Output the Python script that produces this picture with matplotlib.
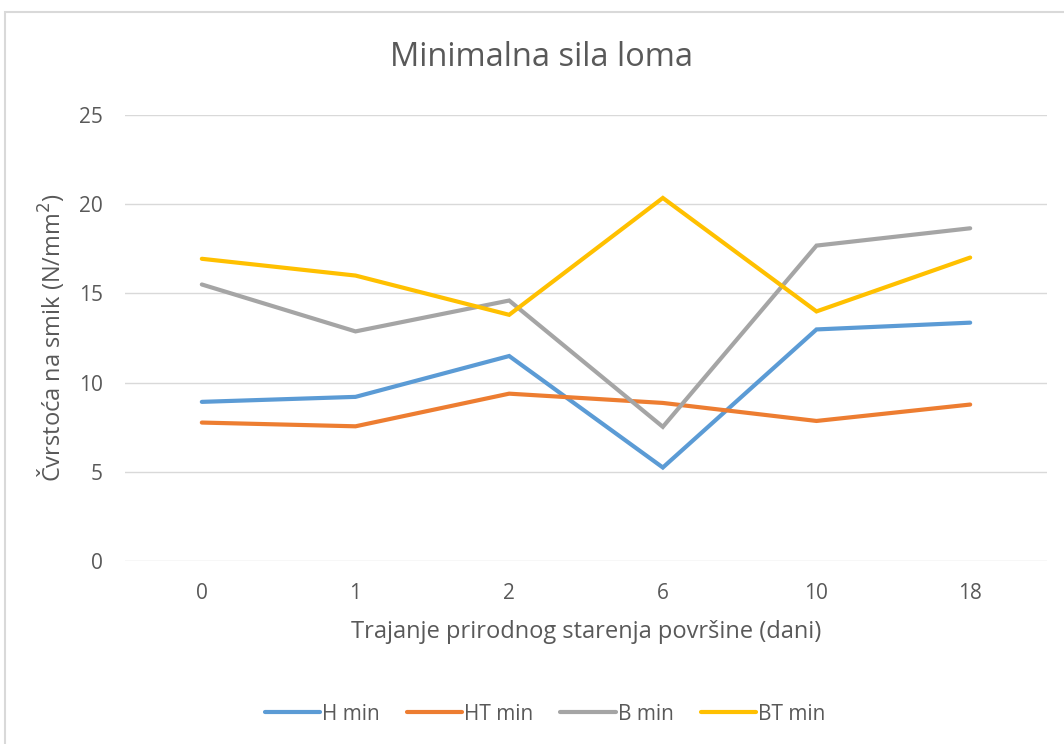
import matplotlib
matplotlib.use("Agg")
import matplotlib.pyplot as plt
from matplotlib.patches import Rectangle

plt.rcParams['font.family'] = ['Open Sans', 'DejaVu Sans']

# Data
categories = ['0', '1', '2', '6', '10', '18']
h_min = [8.92, 9.2, 11.49, 5.24, 12.98, 13.36]
ht_min = [7.76, 7.55, 9.38, 8.86, 7.85, 8.77]
b_min = [15.5, 12.87, 14.6, 7.52, 17.68, 18.65]
bt_min = [16.94, 16.0, 13.8, 20.35, 13.99, 17.01]

series = [
    ('H min', h_min, '#5B9BD5'),
    ('HT min', ht_min, '#ED7D31'),
    ('B min', b_min, '#A5A5A5'),
    ('BT min', bt_min, '#FFC000'),
]

text_color = '#595959'

fig = plt.figure(figsize=(10.64, 7.44), dpi=100)
# chart area border (cropped on right/bottom in reference)
fig.patches.append(Rectangle((5 / 1064, -0.05), 1.1, 1 - 12 / 744 + 0.05,
                             transform=fig.transFigure, fill=False,
                             edgecolor='#d9d9d9', lw=1.5, clip_on=False))

ax = fig.add_axes([125 / 1064, 1 - 561 / 744, (1047 - 125) / 1064, (561 - 115) / 744])

x = list(range(len(categories)))
for name, vals, col in series:
    ax.plot(x, vals, color=col, lw=3, label=name, solid_capstyle='round',
            solid_joinstyle='miter')

ax.set_xlim(-0.5, len(categories) - 0.5)
ax.set_ylim(0, 25)
ax.set_yticks([0, 5, 10, 15, 20, 25])
ax.set_xticks(x)
ax.set_xticklabels(categories)
ax.grid(True, axis='y', color='#d9d9d9', lw=1)
ax.set_axisbelow(True)
for s in ax.spines.values():
    s.set_visible(False)
ax.tick_params(axis='both', length=0, labelsize=15, colors=text_color)
ax.tick_params(axis='y', pad=16)
ax.tick_params(axis='x', pad=16)

ax.set_xlabel('Trajanje prirodnog starenja površine (dani)', fontsize=17,
              color=text_color, labelpad=11)
ax.set_ylabel('Čvrstoća na smik (N/mm$^2$)', fontsize=17, color=text_color,
              labelpad=9)

fig.text(541 / 1064, 1 - 58 / 744, 'Minimalna sila loma', ha='center', va='center',
         fontsize=23.5, color=text_color)

fig.legend(loc='center', bbox_to_anchor=(545 / 1064, 1 - 714 / 744), ncol=4,
           frameon=False, fontsize=15, handlelength=2.65, columnspacing=1.3,
           handletextpad=0.1, labelcolor=text_color)

fig.savefig('out.png', dpi=100)
